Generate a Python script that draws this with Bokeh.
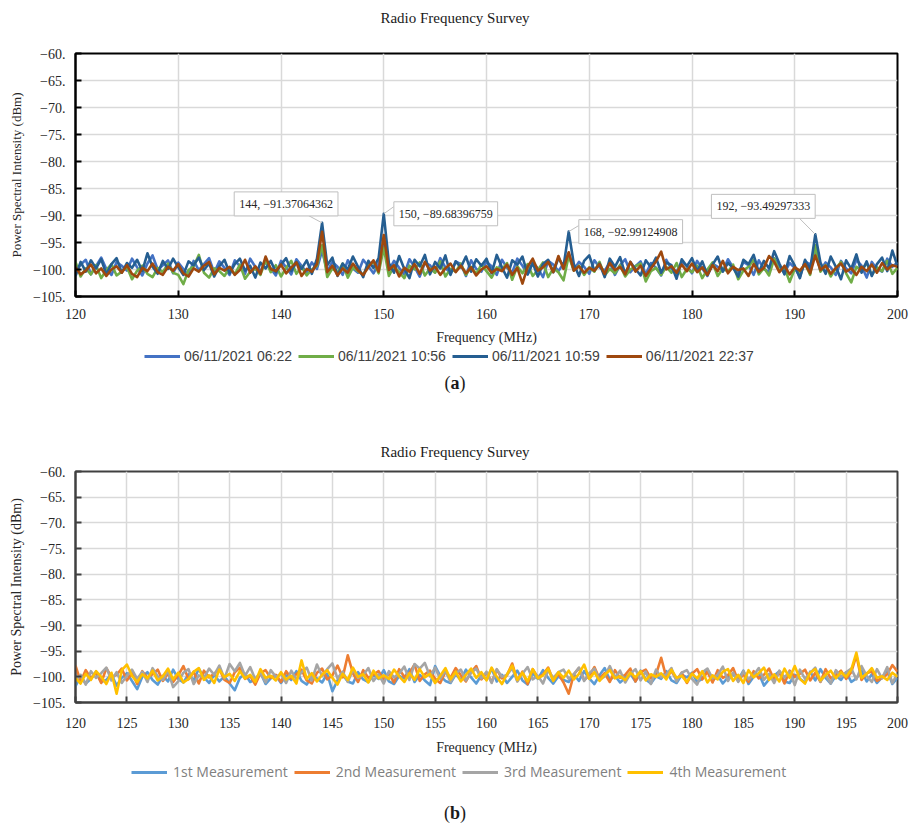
from bokeh.plotting import figure
from bokeh.models import Legend, LegendItem, Label, FixedTicker, Div, Range1d
from bokeh.layouts import column
from bokeh.embed import file_html
from bokeh.resources import INLINE

# ---------------- data ----------------
freq_start = 120.0
freq_step = 0.5

# Panel (a)
a_0622 = [
    -100.5, -99.1, -98.2, -100.9, -99.4, -97.8, -99.9, -101.0, -98.6, -99.3, -100.2, -98.0, -99.6, -101.1, -98.9, -97.4, -100.0, -99.2, -98.3, -100.7,
    -98.7, -99.9, -101.2, -98.4, -100.1, -99.0, -97.9, -100.6, -98.5, -99.7, -101.0, -98.3, -99.4, -100.8, -98.0, -99.5, -100.3, -98.6, -99.8, -101.1,
    -98.4, -99.6, -100.9, -98.1, -99.3, -100.5, -98.7, -99.9, -96.5, -100.4, -98.6, -99.5, -101.0, -98.3, -99.8, -100.6, -98.2, -99.4, -100.7, -98.9,
    -95.0, -100.2, -98.4, -99.7, -100.9, -98.1, -99.5, -101.3, -98.8, -99.2, -100.5, -97.9, -99.6, -100.8, -98.5, -99.0, -101.2, -98.3, -99.9, -100.4,
    -98.6, -99.4, -101.0, -98.2, -99.7, -100.6, -98.0, -99.3, -100.9, -98.7, -99.8, -101.4, -98.4, -99.1, -100.3, -98.9, -97.0, -100.1, -98.6, -99.5,
    -100.8, -98.3, -99.6, -100.2, -98.7, -101.0, -99.2, -98.1, -100.5, -99.4, -98.5, -100.9, -98.8, -99.7, -101.1, -98.2, -99.9, -100.4, -98.6, -99.3,
    -100.7, -98.4, -99.8, -101.2, -98.9, -99.5, -100.3, -98.1, -99.6, -100.8, -98.6, -99.2, -101.0, -98.3, -99.9, -100.5, -97.9, -99.4, -100.6, -98.8,
    -99.7, -101.3, -98.5, -99.1, -96.8, -100.2, -98.7, -99.6, -101.0, -98.4, -99.8, -100.7, -98.2, -99.3, -101.5, -98.6, -99.9, -100.4, -98.0, -99.5,
    -98.7,
]
a_1056 = [
    -98.6, -101.3, -99.8, -100.9, -99.2, -101.6, -100.1, -99.0, -101.1, -100.4, -99.5, -101.8, -100.2, -99.3, -100.8, -101.4, -99.7, -100.5, -98.9, -100.6,
    -101.0, -102.7, -100.1, -99.4, -97.3, -100.6, -101.5, -99.8, -100.3, -101.2, -99.6, -100.9, -99.1, -101.7, -100.4, -99.9, -101.0, -98.3, -100.5, -99.2,
    -101.3, -99.7, -98.4, -100.8, -99.5, -101.1, -100.0, -99.3, -95.5, -101.4, -99.8, -100.6, -98.9, -101.5, -99.6, -100.3, -101.0, -99.2, -98.6, -100.7,
    -96.0, -101.2, -99.4, -100.5, -101.6, -99.3, -100.0, -98.7, -101.1, -99.8, -100.6, -98.5, -101.3, -99.9, -100.4, -98.9, -101.0, -99.5, -100.8, -99.1,
    -100.3, -101.5, -99.6, -100.0, -98.8, -101.9, -99.4, -100.7, -99.0, -101.2, -100.1, -98.7, -101.4, -99.8, -100.5, -102.0, -97.5, -100.2, -99.3, -101.0,
    -99.6, -100.4, -98.6, -101.1, -99.9, -100.7, -99.2, -101.3, -100.0, -99.4, -98.9, -102.2, -100.3, -99.7, -101.0, -99.5, -100.6, -98.8, -101.4, -99.9,
    -100.5, -99.3, -101.6, -100.0, -98.7, -101.2, -99.8, -100.4, -99.1, -101.8, -100.2, -99.5, -98.2, -100.9, -99.7, -101.1, -98.0, -100.3, -99.6, -102.3,
    -99.9, -100.6, -98.9, -101.0, -95.5, -100.4, -99.2, -101.3, -99.8, -98.6, -100.7, -102.4, -99.5, -100.1, -98.8, -101.0, -99.6, -100.3, -98.4, -100.8,
    -99.7,
]
a_1059 = [
    -101.2, -98.6, -100.4, -98.3, -99.8, -98.1, -100.9, -99.0, -97.9, -100.6, -98.8, -99.7, -98.2, -100.3, -97.0, -99.5, -100.8, -98.4, -99.9, -98.0,
    -99.6, -101.0, -98.5, -99.2, -97.8, -100.1, -98.9, -101.3, -99.4, -98.2, -100.7, -99.0, -98.0, -100.2, -99.3, -101.5, -98.7, -99.8, -98.4, -100.5,
    -99.1, -97.9, -100.3, -98.6, -99.9, -98.3, -100.8, -98.0, -91.37064362, -99.2, -97.8, -101.2, -98.9, -100.0, -97.6, -99.5, -101.4, -98.4, -99.7, -97.9,
    -89.68396759, -98.8, -100.6, -97.5, -99.9, -101.6, -98.2, -99.4, -97.3, -100.9, -98.6, -99.8, -97.4, -101.0, -98.5, -99.6, -97.6, -100.4, -98.1, -99.3,
    -98.0, -100.7, -97.3, -99.6, -101.5, -98.3, -99.1, -97.6, -100.9, -98.8, -101.3, -99.0, -98.2, -100.5, -97.9, -99.4, -92.99124908, -99.0, -101.2, -98.4,
    -97.4, -100.2, -98.9, -101.4, -98.0, -99.5, -97.7, -100.8, -98.6, -99.9, -101.1, -98.3, -99.6, -97.8, -100.6, -98.7, -99.2, -101.7, -98.1, -99.4,
    -97.9, -100.3, -98.5, -101.0, -99.1, -97.6, -100.4, -98.8, -99.7, -101.3, -98.2, -99.0, -97.3, -100.5, -98.4, -99.8, -96.6, -98.9, -100.9, -97.5,
    -99.3, -101.6, -98.2, -100.0, -93.49297333, -98.7, -100.8, -97.6, -99.5, -101.8, -98.3, -99.9, -97.2, -100.6, -98.5, -101.2, -99.0, -97.8, -100.3, -96.5,
    -99.4,
]
a_2237 = [
    -99.6, -100.9, -100.2, -99.1, -100.7, -99.8, -101.2, -100.0, -99.4, -100.6, -99.2, -100.8, -101.4, -99.7, -100.3, -98.9, -100.5, -101.0, -99.5, -100.2,
    -99.0, -100.7, -101.3, -99.8, -100.4, -99.3, -98.6, -100.9, -99.7, -100.2, -99.5, -101.0, -100.1, -98.2, -100.6, -99.4, -100.8, -97.6, -99.9, -100.3,
    -99.1, -100.7, -99.6, -98.7, -101.2, -99.9, -100.4, -99.0, -93.0, -100.5, -99.3, -101.1, -99.8, -100.6, -98.9, -100.2, -101.0, -99.6, -98.3, -100.4,
    -93.6, -100.1, -99.2, -101.3, -99.7, -100.4, -99.0, -100.8, -98.6, -100.2, -99.5, -101.0, -99.8, -98.9, -100.5, -99.3, -100.7, -99.6, -101.1, -100.0,
    -99.4, -100.6, -99.9, -100.3, -99.1, -101.0, -99.7, -102.6, -99.5, -98.0, -100.2, -99.6, -98.6, -100.5, -97.5, -99.9, -96.8, -100.2, -99.4, -100.6,
    -99.7, -100.2, -99.0, -100.8, -98.8, -100.1, -99.5, -100.9, -98.6, -100.4, -99.3, -101.2, -99.8, -98.5, -96.7, -100.0, -99.4, -100.6, -99.1, -100.3,
    -98.9, -100.5, -99.6, -101.0, -99.2, -100.3, -98.4, -100.7, -99.5, -100.1, -99.8, -101.2, -99.0, -100.4, -99.7, -97.5, -98.6, -100.5, -99.3, -100.9,
    -99.6, -100.2, -99.0, -100.7, -97.4, -100.1, -99.3, -100.8, -99.7, -98.9, -100.4, -99.8, -101.0, -99.5, -100.3, -99.1, -100.6, -98.8, -100.0, -99.2,
    -99.5,
]

# Panel (b)
b_1st = [
    -101.8, -99.9, -101.3, -100.4, -99.0, -101.0, -100.6, -99.5, -101.7, -100.2, -99.3, -100.8, -102.4, -100.0, -99.1, -100.6, -101.5, -99.8, -100.9, -98.6,
    -100.4, -101.1, -99.5, -100.7, -98.4, -100.1, -101.2, -99.6, -100.9, -99.9, -101.3, -102.6, -100.2, -99.4, -101.0, -100.5, -99.2, -101.4, -100.3, -99.8,
    -101.2, -99.7, -100.6, -98.9, -100.8, -101.5, -99.9, -100.3, -101.1, -99.4, -102.8, -100.7, -99.6, -100.9, -101.3, -99.1, -100.5, -101.0, -99.7, -100.4,
    -98.7, -100.9, -101.4, -99.8, -100.3, -98.5, -101.0, -99.6, -100.7, -101.6, -97.9, -99.8, -100.8, -101.2, -99.5, -100.6, -98.6, -100.1, -101.3, -99.7,
    -100.5, -98.4, -100.9, -99.6, -101.2, -100.0, -98.8, -100.7, -101.5, -99.3, -100.4, -98.7, -100.2, -101.3, -99.9, -100.6, -101.0, -99.5, -100.8, -98.9,
    -100.3, -101.4, -99.7, -98.3, -100.6, -99.8, -101.1, -100.2, -99.4, -100.9, -98.8, -100.5, -101.3, -99.9, -100.4, -98.9, -100.7, -101.2, -99.6, -100.1,
    -99.2, -101.0, -100.4, -98.6, -100.8, -99.7, -101.3, -100.1, -99.5, -100.6, -98.8, -101.4, -100.0, -99.3, -101.7, -100.5, -99.8, -98.9, -100.9, -101.2,
    -99.6, -100.4, -101.1, -99.0, -100.7, -98.5, -100.2, -101.3, -99.8, -100.6, -99.1, -101.0, -100.3, -98.8, -100.9, -99.5, -101.2, -100.1, -98.7, -101.4,
    -100.2,
]
b_2nd = [
    -97.8, -100.9, -98.7, -100.3, -99.1, -101.2, -98.3, -100.0, -99.6, -98.4, -100.7, -99.2, -101.4, -98.9, -100.2, -99.5, -98.6, -100.8, -99.3, -101.0,
    -99.7, -97.9, -100.5, -99.0, -101.3, -98.8, -100.1, -99.4, -98.5, -100.6, -101.2, -99.1, -98.2, -100.4, -99.8, -101.5, -99.3, -98.7, -100.2, -99.6,
    -101.0, -98.9, -100.3, -99.5, -98.6, -100.7, -101.3, -99.2, -98.4, -100.5, -99.7, -97.8, -100.1, -95.8, -99.3, -101.0, -98.7, -100.2, -99.6, -98.9,
    -100.6, -99.4, -101.1, -98.5, -100.0, -99.3, -97.6, -100.8, -99.5, -98.8, -100.4, -101.2, -99.0, -100.2, -98.3, -99.7, -100.9, -99.1, -97.9, -100.5,
    -99.2, -101.0, -98.6, -100.3, -99.7, -97.4, -100.8, -99.0, -101.4, -98.5, -100.1, -99.6, -98.2, -100.7, -99.4, -101.1, -103.3, -99.5, -98.3, -100.6,
    -99.8, -98.1, -100.4, -99.3, -101.0, -98.7, -100.2, -99.6, -98.4, -100.9, -99.1, -98.6, -100.3, -99.5, -96.3, -100.1, -98.9, -100.6, -99.2, -101.2,
    -99.4, -98.5, -100.5, -99.0, -101.1, -98.7, -100.2, -99.7, -98.3, -100.8, -99.5, -101.0, -98.9, -100.3, -99.6, -98.4, -100.6, -99.1, -101.3, -98.8,
    -100.0, -99.4, -98.6, -100.7, -99.2, -101.0, -98.5, -100.3, -99.7, -98.8, -100.4, -99.1, -95.8, -100.6, -99.3, -98.9, -100.8, -100.2, -99.5, -97.7,
    -99.0,
]
b_3rd = [
    -100.8, -99.6, -101.5, -98.9, -100.2, -99.3, -98.2, -100.7, -99.1, -101.2, -99.8, -98.6, -100.4, -99.0, -101.0, -98.3, -99.9, -100.6, -98.8, -102.0,
    -100.9, -99.2, -98.5, -101.4, -99.7, -100.2, -98.4, -99.6, -97.8, -100.3, -97.5, -98.9, -97.3, -99.8, -98.1, -100.5, -99.2, -101.1, -98.7, -100.0,
    -99.4, -101.2, -98.8, -100.5, -99.1, -98.2, -100.7, -97.6, -99.9, -98.5, -97.4, -100.3, -99.0, -101.0, -98.6, -100.2, -99.7, -98.3, -100.8, -99.5,
    -101.3, -98.9, -100.1, -99.4, -98.0, -100.6, -97.5, -98.4, -97.3, -99.9, -98.2, -100.4, -98.8, -101.0, -99.3, -98.6, -100.7, -99.2, -98.4, -100.3,
    -99.0, -101.2, -98.5, -100.0, -99.6, -98.3, -100.9, -99.4, -98.1, -100.5, -99.8, -101.3, -98.7, -100.2, -99.1, -98.6, -100.4, -99.5, -98.2, -100.8,
    -99.3, -98.4, -100.6, -99.9, -97.9, -100.2, -98.8, -101.1, -99.4, -98.5, -100.7, -99.0, -101.4, -98.6, -100.1, -99.5, -98.3, -100.9, -99.2, -98.7,
    -100.4, -101.5, -99.1, -98.4, -100.3, -99.6, -98.0, -100.8, -99.2, -101.0, -98.9, -100.5, -99.7, -98.3, -100.6, -99.4, -101.2, -98.8, -100.1, -99.0,
    -101.6, -98.6, -100.4, -99.3, -98.2, -100.9, -99.6, -101.3, -98.7, -100.0, -99.1, -98.4, -100.5, -97.9, -99.8, -101.0, -98.5, -100.3, -98.1, -101.2,
    -99.4,
]
b_4th = [
    -100.2, -101.3, -99.4, -100.6, -98.9, -100.0, -101.4, -99.2, -103.3, -98.7, -97.6, -99.8, -101.0, -99.5, -100.3, -98.8, -100.7, -99.9, -98.4, -100.5,
    -99.2, -101.1, -100.4, -99.0, -98.3, -100.6, -99.7, -101.2, -98.6, -100.1, -99.4, -100.8, -98.9, -100.3, -99.6, -101.0, -98.5, -100.2, -99.8, -100.7,
    -99.1, -100.5, -99.8, -101.3, -96.8, -100.4, -99.3, -100.9, -99.6, -98.7, -100.2, -101.5, -99.4, -100.6, -98.2, -100.0, -99.5, -101.1, -98.8, -100.3,
    -99.7, -100.4, -98.6, -99.9, -101.0, -99.3, -100.6, -98.5, -100.1, -99.4, -101.2, -99.8, -98.3, -100.5, -99.0, -100.9, -99.6, -98.4, -100.2, -99.1,
    -100.7, -98.2, -100.0, -101.4, -99.5, -97.8, -100.6, -99.2, -100.9, -98.5, -100.3, -99.7, -98.4, -100.8, -99.1, -100.2, -98.8, -100.5, -99.4, -97.6,
    -100.4, -99.1, -100.8, -99.6, -98.7, -100.3, -99.9, -100.6, -99.2, -100.1, -98.9, -100.7, -99.5, -100.0, -99.3, -100.5, -98.6, -100.2, -99.8, -101.0,
    -99.4, -100.3, -98.9, -101.1, -99.7, -100.5, -99.0, -98.5, -100.8, -99.6, -101.2, -98.7, -100.1, -99.3, -98.2, -100.6, -99.5, -100.9, -98.4, -100.2,
    -97.9, -100.4, -101.3, -99.2, -98.5, -100.7, -99.6, -98.8, -100.3, -99.1, -100.0, -98.6, -95.3, -100.2, -99.4, -98.3, -100.2, -99.9, -100.6, -99.2,
    -100.0,
]

a_labels = ["06/11/2021 06:22", "06/11/2021 10:56", "06/11/2021 10:59", "06/11/2021 22:37"]
a_colors = ["#4472C4", "#70AD47", "#255E91", "#9E480E"]
b_labels = ["1st Measurement", "2nd Measurement", "3rd Measurement", "4th Measurement"]
b_colors = ["#5B9BD5", "#ED7D31", "#A5A5A5", "#FFC000"]

peak_freqs = [144, 150, 168, 192]
peak_values = [-91.37064362, -89.68396759, -92.99124908, -93.49297333]

chart_title = "Radio Frequency Survey"
y_ticks = [-60, -65, -70, -75, -80, -85, -90, -95, -100, -105]
a_x_ticks = [120, 130, 140, 150, 160, 170, 180, 190, 200]
b_x_ticks = [120, 125, 130, 135, 140, 145, 150, 155, 160, 165, 170, 175, 180, 185, 190, 195, 200]

SERIF = "Liberation Serif"
X_MIN, X_MAX, Y_MIN, Y_MAX = 120, 200, -105, -60
W = 910


def freqs_for(vals):
    return [freq_start + freq_step * i for i in range(len(vals))]


def text_div(html, height, pad_top, size):
    style = (f"width:{W}px;text-align:center;font-family:'Liberation Serif';"
             f"font-size:{size}px;line-height:20px;color:#1a1a1a;padding-top:{pad_top}px;")
    return Div(text=f'<div style="{style}">{html}</div>', width=W, height=height, margin=0)


def make_panel(series, colors, x_ticks, *, height, mb_left, mb_right, mb_top, mb_bottom,
               outline_color, tick_standoff_x, axis_label_standoff_x, ylabel_size):
    p = figure(width=W, height=height, output_backend="svg", toolbar_location=None,
               x_range=Range1d(X_MIN, X_MAX), y_range=Range1d(Y_MIN, Y_MAX),
               min_border_left=mb_left, min_border_right=mb_right,
               min_border_top=mb_top, min_border_bottom=mb_bottom,
               background_fill_color="white", border_fill_color="white")

    p.outline_line_color = outline_color
    p.outline_line_width = 2

    for ax in (p.xaxis[0], p.yaxis[0]):
        ax.axis_line_color = outline_color
        ax.axis_line_width = 2
        ax.major_tick_line_color = outline_color
        ax.major_tick_line_width = 2
        ax.major_tick_in = 6
        ax.major_tick_out = 0
        ax.minor_tick_line_color = None
        ax.major_label_text_font = SERIF
        ax.major_label_text_font_size = "14px"
        ax.major_label_text_color = "#262626"
        ax.axis_label_text_font = SERIF
        ax.axis_label_text_font_style = "normal"
        ax.axis_label_text_color = "#262626"

    p.xaxis.ticker = FixedTicker(ticks=x_ticks)
    p.yaxis.ticker = FixedTicker(ticks=y_ticks)
    p.yaxis.major_label_overrides = {t: "\u2212" + str(abs(t)) + "." for t in y_ticks}
    p.xaxis.axis_label = "Frequency (MHz)"
    p.xaxis.axis_label_text_font_size = "14px"
    p.xaxis.major_label_standoff = tick_standoff_x
    p.xaxis.axis_label_standoff = axis_label_standoff_x
    p.yaxis.axis_label = "Power Spectral Intensity (dBm)"
    p.yaxis.axis_label_text_font_size = ylabel_size
    p.yaxis.major_label_standoff = 10
    p.yaxis.axis_label_standoff = 6

    p.xgrid.ticker = FixedTicker(ticks=x_ticks)
    p.ygrid.ticker = FixedTicker(ticks=y_ticks)
    p.xgrid.grid_line_color = "#d9d9d9"
    p.ygrid.grid_line_color = "#d9d9d9"
    p.xgrid.grid_line_width = 1.5
    p.ygrid.grid_line_width = 1.5

    for vals, col in zip(series, colors):
        p.line(freqs_for(vals), vals, line_color=col, line_width=2.6, line_join="round")
    return p


def make_legend(series, labels, colors, *, height, loc, font, size, color, spacing, standoff):
    # legend strip below a panel; its line renderers use the same series but the
    # strip's ranges keep them out of view, so only the legend entries show
    lf = figure(width=W, height=height, output_backend="svg", toolbar_location=None,
                x_range=Range1d(0, 1), y_range=Range1d(0, 1),
                x_axis_type=None, y_axis_type=None, min_border=0,
                outline_line_color=None, background_fill_color="white",
                border_fill_color="white")
    lf.xgrid.visible = False
    lf.ygrid.visible = False
    items = []
    for vals, lab, col in zip(series, labels, colors):
        r = lf.line(freqs_for(vals), vals, line_color=col, line_width=2.8)
        items.append(LegendItem(label=lab, renderers=[r]))
    lg = Legend(items=items, orientation="horizontal", location=loc,
                label_text_font=font, label_text_font_size=size, label_text_color=color,
                glyph_width=36, glyph_height=14, label_height=14, label_standoff=standoff,
                spacing=spacing, padding=0, margin=0,
                border_line_alpha=0, background_fill_alpha=0)
    lf.add_layout(lg)
    return lf


a_series = [a_0622, a_1056, a_1059, a_2237]
b_series = [b_1st, b_2nd, b_3rd, b_4th]

title_a = text_div(chart_title, 34, 8, 15)
pa = make_panel(a_series, a_colors, a_x_ticks,
                height=314, mb_left=67, mb_right=11, mb_top=19, mb_bottom=52,
                outline_color="#000000", tick_standoff_x=12, axis_label_standoff_x=8,
                ylabel_size="13px")

# call-out annotations on panel (a)
px_per_mhz = (W - 67 - 11) / 80.0
px_per_db = (314 - 19 - 52) / 45.0
label_dx = [-36, 62, 62, -52]
label_dy = [19, 0, 0, 28]
leader_dx = [-15, 10, 10, -18]
leader_dy = [8, 7, 6, 18]
x0s, y0s, x1s, y1s = [], [], [], []
for f, v, kdx, kdy in zip(peak_freqs, peak_values, leader_dx, leader_dy):
    x0s.append(f)
    y0s.append(v)
    x1s.append(f + kdx / px_per_mhz)
    y1s.append(v + kdy / px_per_db)
pa.segment(x0s, y0s, x1s, y1s, line_color="#bfbfbf", line_width=1)
for f, v, ldx, ldy in zip(peak_freqs, peak_values, label_dx, label_dy):
    txt = f"{f}, \u2212{abs(v):.8f}"
    pa.add_layout(Label(x=f, y=v, x_offset=ldx, y_offset=ldy, text=txt,
                        text_font=SERIF, text_font_size="12px", text_color="#262626",
                        text_align="center", text_baseline="middle",
                        border_line_color="#bfbfbf", border_line_width=1,
                        background_fill_color="white", padding=5))

legend_a = make_legend(a_series, a_labels, a_colors, height=16, loc=(69, 0),
                       font="Liberation Sans", size="14px", color="#404040",
                       spacing=6, standoff=4)
cap_a = text_div("(<b>a</b>)", 70, 9, 18)

title_b = text_div(chart_title, 27, 8, 15)
pb = make_panel(b_series, b_colors, b_x_ticks,
                height=297, mb_left=75, mb_right=13, mb_top=10, mb_bottom=56,
                outline_color="#404040", tick_standoff_x=15, axis_label_standoff_x=9,
                ylabel_size="14px")
legend_b = make_legend(b_series, b_labels, b_colors, height=33, loc=(56, 10),
                       font="Open Sans", size="14px", color="#808080",
                       spacing=6, standoff=6)
cap_b = text_div("(<b>b</b>)", 34, 12, 18)

layout = column(title_a, pa, legend_a, cap_a, title_b, pb, legend_b, cap_b, spacing=0)
open("out.html", "w").write(file_html(layout, INLINE))
